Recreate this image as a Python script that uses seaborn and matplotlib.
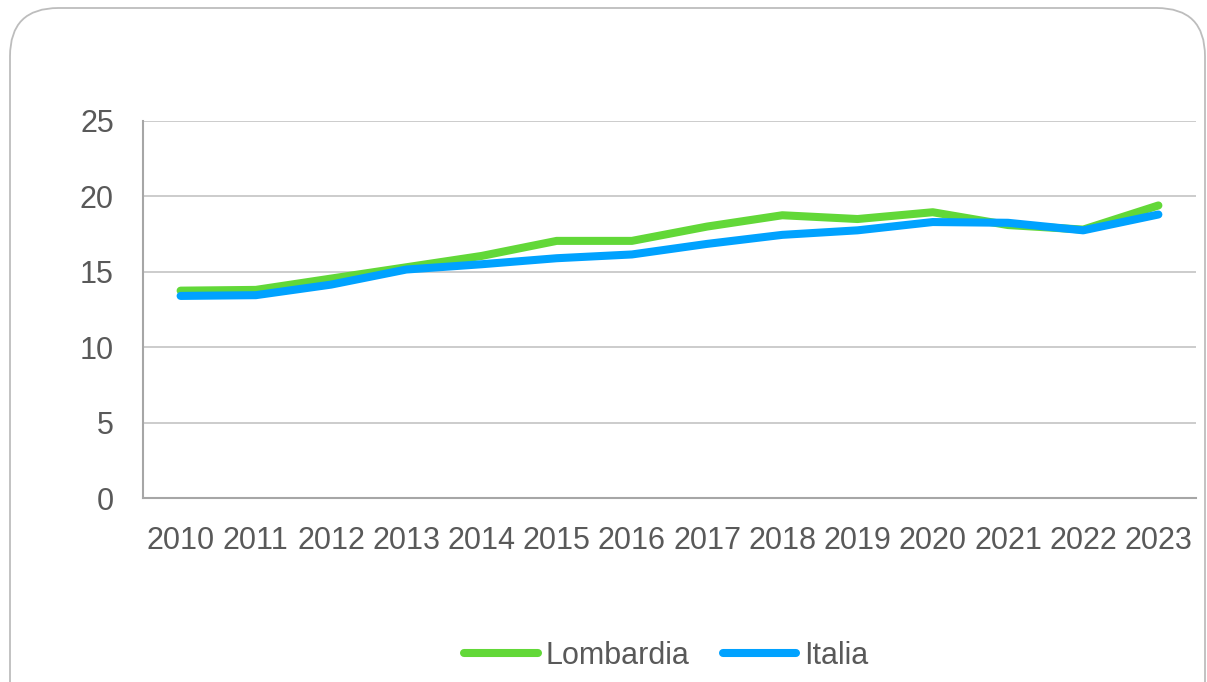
import matplotlib
matplotlib.use("Agg")
import matplotlib.pyplot as plt
from matplotlib.patches import FancyBboxPatch
from matplotlib.lines import Line2D
import seaborn as sns
import pandas as pd

years = [2010, 2011, 2012, 2013, 2014, 2015, 2016, 2017, 2018, 2019, 2020, 2021, 2022, 2023]
lombardia = [13.75, 13.8, 14.55, 15.3, 16.05, 17.05, 17.05, 18.0, 18.75, 18.5, 18.95, 18.1, 17.8, 19.4]
italia = [13.4, 13.45, 14.15, 15.15, 15.5, 15.9, 16.15, 16.85, 17.45, 17.75, 18.3, 18.25, 17.75, 18.8]
series_names = ["Lombardia", "Italia"]
colors = ["#62D838", "#00A2FF"]
yticks = [0, 5, 10, 15, 20, 25]

df = pd.DataFrame({
    "Anno": years * 2,
    "Valore": lombardia + italia,
    "Serie": [series_names[0]] * len(years) + [series_names[1]] * len(years),
})

sns.set_theme(style="white")
plt.rcParams["font.family"] = ["Liberation Sans", "DejaVu Sans"]
text_color = "#595959"

fig = plt.figure(figsize=(12.07, 6.82), dpi=100)
border = FancyBboxPatch((10 / 1207, -0.1), (1195 / 1207), 1 - 8 / 682 + 0.1,
                        boxstyle="round,pad=0,rounding_size=0.04",
                        transform=fig.transFigure, facecolor="none",
                        edgecolor="#BDBDBD", linewidth=1.3, zorder=-1,
                        mutation_aspect=1207 / 682)
fig.patches.append(border)

ax = fig.add_axes([143 / 1207, 1 - 498 / 682, (1196 - 143) / 1207, (498 - 121) / 682])
ax.set_facecolor("none")
sns.lineplot(data=df, x="Anno", y="Valore", hue="Serie", hue_order=series_names,
             palette=colors, linewidth=5.8, ax=ax, legend=False,
             solid_capstyle="round")

ax.set_xlim(2009.5, 2023.5)
ax.set_ylim(0, 25)
ax.set_xticks(years)
ax.set_xticklabels([str(y) for y in years])
ax.set_yticks(yticks)
ax.set_xlabel("")
ax.set_ylabel("")
ax.grid(axis="y", color="#C4C4C4", linewidth=1.2)
ax.set_axisbelow(True)
for s in ["top", "right"]:
    ax.spines[s].set_visible(False)
for s in ["left", "bottom"]:
    ax.spines[s].set_color("#A6A6A6")
    ax.spines[s].set_linewidth(1.5)
ax.tick_params(axis="both", length=0, labelsize=22, colors=text_color)
ax.tick_params(axis="y", pad=21)
ax.tick_params(axis="x", pad=20)

handles = [Line2D([0], [0], color=c, linewidth=5.8, solid_capstyle="round") for c in colors]
leg = fig.legend(handles, series_names, loc="center", bbox_to_anchor=(0.552, 0.038),
                 ncol=2, frameon=False, fontsize=22, handlelength=2.4,
                 handletextpad=0.25, columnspacing=1.1)
for t in leg.get_texts():
    t.set_color(text_color)

fig.savefig("out.png", dpi=100)
